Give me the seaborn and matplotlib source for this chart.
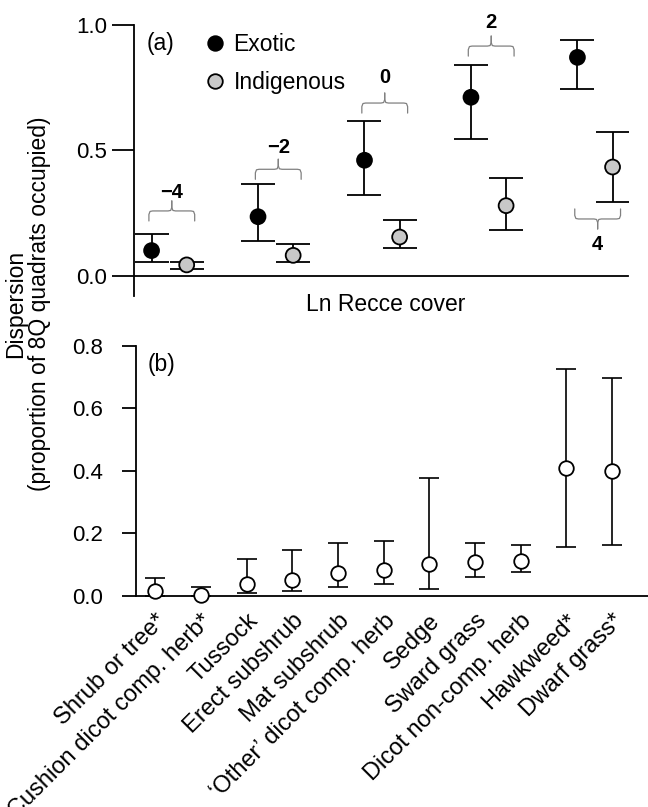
import numpy as np
import pandas as pd
import matplotlib
matplotlib.use("Agg")
import matplotlib.pyplot as plt
from matplotlib.lines import Line2D
from matplotlib.transforms import ScaledTranslation
import seaborn as sns

# (a) dispersion of exotic vs indigenous species along ln Recce cover
recce_cover = [-4, -2, 0, 2, 4]
cover_labels = ["\u22124", "\u22122", "0", "2", "4"]
exotic_mean = [0.101, 0.236, 0.461, 0.712, 0.871]
exotic_lo = [0.057, 0.141, 0.323, 0.547, 0.744]
exotic_hi = [0.169, 0.365, 0.616, 0.841, 0.939]
indig_mean = [0.044, 0.082, 0.155, 0.280, 0.434]
indig_lo = [0.029, 0.056, 0.112, 0.183, 0.293]
indig_hi = [0.057, 0.126, 0.223, 0.392, 0.574]
bracket_y = [0.259, 0.425, 0.689, 0.916, 0.227]
bracket_up = [True, True, True, True, False]
label_gap = [0.075, 0.085, 0.10, 0.095, 0.10]

# (b) dispersion by growth form
growth_forms = ["Shrub or tree*", "Cushion dicot comp. herb*", "Tussock",
                "Erect subshrub", "Mat subshrub", "\u2018Other\u2019 dicot comp. herb",
                "Sedge", "Sward grass", "Dicot non-comp. herb", "Hawkweed*", "Dwarf grass*"]
form_mean = [0.017, 0.004, 0.038, 0.050, 0.072, 0.084, 0.101, 0.108, 0.113, 0.410, 0.399]
form_lo = [0.0, 0.0, 0.011, 0.017, 0.028, 0.038, 0.022, 0.062, 0.078, 0.158, 0.163]
form_hi = [0.056, 0.029, 0.118, 0.147, 0.168, 0.175, 0.376, 0.168, 0.163, 0.725, 0.698]

sns.set_theme(style="ticks")
plt.rcParams["font.family"] = ["Liberation Sans", "DejaVu Sans"]
for k in ["text.color", "axes.labelcolor", "xtick.color", "ytick.color", "axes.edgecolor"]:
    plt.rcParams[k] = "black"

W, H = 648, 807
fig = plt.figure(figsize=(W / 100, H / 100), dpi=100)
ax_a = fig.add_axes([134 / W, 1 - 296 / H, (628 - 134) / W, (296 - 25) / H])
ax_b = fig.add_axes([136 / W, 1 - 596 / H, (648 - 136) / W, (596 - 345.7) / H])

# ------------------------------------------------------------------
# panel (a)
# ------------------------------------------------------------------
df_a = pd.DataFrame({
    "cover": recce_cover * 2,
    "origin": ["Exotic"] * 5 + ["Indigenous"] * 5,
    "disp": exotic_mean + indig_mean,
    "lo": exotic_lo + indig_lo,
    "hi": exotic_hi + indig_hi,
})
offset = {"Exotic": -0.33, "Indigenous": 0.33}
df_a["xpos"] = df_a["cover"] + df_a["origin"].map(offset)
colors = {"Exotic": "black", "Indigenous": "#c8c8c8"}

for origin, sub in df_a.groupby("origin"):
    ax_a.errorbar(sub["xpos"], sub["disp"],
                  yerr=[sub["disp"] - sub["lo"], sub["hi"] - sub["disp"]],
                  fmt="none", ecolor="black", elinewidth=1.3, capsize=12,
                  capthick=1.3, zorder=2)
sns.scatterplot(data=df_a, x="xpos", y="disp", hue="origin", palette=colors,
                edgecolor="black", linewidth=1.3, s=115, legend=False,
                ax=ax_a, zorder=3, clip_on=False)


def bracket(ax, xc, y, up, text, gap, half=0.43, d=0.04):
    s = 1 if up else -1
    r = 0.07
    left_x = [xc - half, xc - half, xc - half + r * 0.3, xc - half + r,
              xc - r, xc - r * 0.3, xc, xc]
    left_y = [y - s * d, y - s * d * 0.35, y - s * d * 0.05, y,
              y, y + s * d * 0.05, y + s * d * 0.35, y + s * d]
    right_x = [2 * xc - v for v in left_x]
    ax.plot(left_x, left_y, color="#808080", lw=0.9, solid_capstyle="round")
    ax.plot(right_x, left_y, color="#808080", lw=0.9, solid_capstyle="round")
    ax.text(xc, y + s * gap, text, ha="center", va="center",
            fontsize=14.5, fontweight="bold")


for cv, lab, by, up, g in zip(recce_cover, cover_labels, bracket_y, bracket_up, label_gap):
    bracket(ax_a, cv + 0.05, by, up, lab, g)

ax_a.set_xlim(-4.66, 4.62)
ax_a.set_ylim(-0.08, 1.0)
ax_a.set_yticks([0.0, 0.5, 1.0])
ax_a.set_yticklabels(["0.0", "0.5", "1.0"])
ax_a.set_xticks([])
ax_a.set_xlabel("")
ax_a.set_ylabel("")
sns.despine(ax=ax_a)
ax_a.spines["bottom"].set_position(("data", 0))
for sp in ["left", "bottom"]:
    ax_a.spines[sp].set_linewidth(1.3)
ax_a.tick_params(axis="y", length=15.5, width=1.3, pad=4, labelsize=16)
ax_a.text(0.51, -0.03, "Ln Recce cover", transform=ax_a.transAxes,
          ha="center", va="center", fontsize=16.5)
ax_a.text(0.026, 0.93, "(a)", transform=ax_a.transAxes, ha="left",
          va="center", fontsize=16.5)

handles = [Line2D([], [], marker="o", ls="", mfc=colors[o], mec="black",
                  ms=10.5, mew=1.3) for o in ["Exotic", "Indigenous"]]
ax_a.legend(handles, ["Exotic", "Indigenous"], loc="upper left",
            bbox_to_anchor=(206 / W, 1 - 33 / H), bbox_transform=fig.transFigure,
            frameon=False, borderpad=0, borderaxespad=0, handlelength=0.8,
            handletextpad=0.4, labelspacing=0.65, fontsize=16.5)

# ------------------------------------------------------------------
# panel (b)
# ------------------------------------------------------------------
df_b = pd.DataFrame({"form": growth_forms, "disp": form_mean,
                     "lo": form_lo, "hi": form_hi})
df_b["pos"] = np.arange(len(df_b))

ax_b.errorbar(df_b["pos"], df_b["disp"],
              yerr=[df_b["disp"] - df_b["lo"], df_b["hi"] - df_b["disp"]],
              fmt="none", ecolor="black", elinewidth=1.2, capsize=7.5,
              capthick=1.2, zorder=2, clip_on=False)
sns.scatterplot(data=df_b, x="pos", y="disp", color="white", edgecolor="black",
                linewidth=1.3, s=110, ax=ax_b, zorder=3, clip_on=False)

ax_b.set_xlim(-0.42, 10.79)
ax_b.set_ylim(0, 0.8)
ax_b.set_yticks([0.0, 0.2, 0.4, 0.6, 0.8])
ax_b.set_yticklabels(["0.0", "0.2", "0.4", "0.6", "0.8"])
ax_b.set_xticks(df_b["pos"])
ax_b.set_xticklabels(df_b["form"], rotation=45, ha="right", va="top",
                     rotation_mode="anchor", fontsize=17)
shift = ScaledTranslation(9 / 100, 0, fig.dpi_scale_trans)
for lab in ax_b.get_xticklabels():
    lab.set_transform(lab.get_transform() + shift)
ax_b.set_xlabel("")
ax_b.set_ylabel("")
sns.despine(ax=ax_b)
for sp in ["left", "bottom"]:
    ax_b.spines[sp].set_linewidth(1.3)
ax_b.tick_params(axis="y", length=10, width=1.3, pad=14, labelsize=16)
ax_b.tick_params(axis="x", length=0, pad=10)
ax_b.text(0.023, 0.923, "(b)", transform=ax_b.transAxes, ha="left",
          va="center", fontsize=16.5)

fig.text(27.5 / W, 1 - 304 / H, "Dispersion\n(proportion of 8Q quadrats occupied)",
         rotation=90, ha="center", va="center", ma="center", fontsize=16.5,
         linespacing=1.05)

fig.savefig("out.png", dpi=100)
